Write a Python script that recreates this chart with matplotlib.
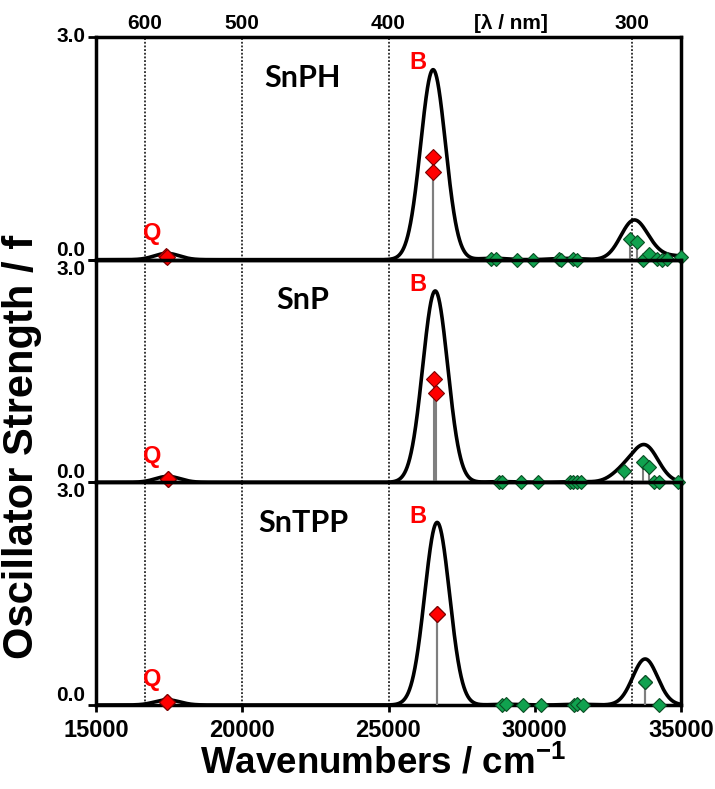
import numpy as np
import matplotlib
matplotlib.use("Agg")
import matplotlib.pyplot as plt
from matplotlib.transforms import blended_transform_factory

plt.rcParams["mathtext.fontset"] = "custom"
plt.rcParams["mathtext.rm"] = "Liberation Sans:bold"
plt.rcParams["mathtext.bf"] = "Liberation Sans:bold"
plt.rcParams["mathtext.it"] = "Liberation Sans:bold"
plt.rcParams["mathtext.default"] = "bf"

# ---------------- data ----------------
panel_names = ["SnPH", "SnP", "SnTPP"]

# Q band sticks (cm-1, oscillator strength)
q_x = [[17410, 17440], [17450, 17460], [17430, 17440]]
q_f = [[0.045, 0.04], [0.04, 0.04], [0.035, 0.035]]

# B band sticks
b_x = [[26520, 26530], [26560, 26640], [26660, 26665]]
b_f = [[1.38, 1.18], [1.39, 1.20], [1.23, 1.23]]

# higher-energy sticks (green)
g_x = [
    [28504, 28675, 29393, 29940, 30829, 30897, 31308, 31444,
     33257, 33496, 33701, 33906, 34179, 34350, 34521, 34990],
    [28778, 28880, 29530, 30111, 31205, 31308, 31444, 31581,
     33051, 33701, 33906, 34077, 34248, 34897],
    [28880, 29017, 29598, 30214, 31342, 31444, 31650,
     33769, 33780, 34248],
]
g_f = [
    [0.01, 0.01, 0.0, 0.0, 0.01, 0.0, 0.01, 0.0,
     0.28, 0.24, 0.0, 0.07, 0.01, 0.0, 0.01, 0.04],
    [0.0, 0.01, 0.0, 0.0, 0.0, 0.0, 0.01, 0.0,
     0.15, 0.28, 0.20, 0.0, 0.01, 0.0],
    [0.0, 0.01, 0.0, 0.0, 0.0, 0.01, 0.0,
     0.31, 0.31, 0.0],
]

nm_ticks = [600, 500, 400, 300]
vlines_nm = [600, 500, 400, 300]
x_ticks = [15000, 20000, 25000, 30000, 35000]
y_ticks = [0.0, 3.0]
sigma = 425.0

# ---------------- figure ----------------
W, H = 715, 789
fig = plt.figure(figsize=(W / 100, H / 100), dpi=100)
fig.patch.set_facecolor("white")

FONT = ["Liberation Sans", "DejaVu Sans"]
left_px, right_px = 96, 681
top_px, bot_px = 37, 705
ph = (bot_px - top_px) / 3.0

xx = np.linspace(15000, 35000, 4000)
red = "#FF0000"
green = "#10A24F"

axes = []
for i in range(3):
    y0 = top_px + i * ph
    ax = fig.add_axes([left_px / W, 1 - (y0 + ph) / H,
                       (right_px - left_px) / W, ph / H])
    ax.patch.set_visible(False)
    axes.append(ax)

    allx = np.array(q_x[i] + b_x[i] + g_x[i], dtype=float)
    allf = np.array(q_f[i] + b_f[i] + g_f[i], dtype=float)
    curve = (allf[:, None] * np.exp(-(xx[None, :] - allx[:, None]) ** 2
                                     / (2 * sigma ** 2))).sum(axis=0)

    for nm in vlines_nm:
        ax.axvline(1e7 / nm, color="black", ls=(0, (1.2, 1.2)), lw=1.1, zorder=1)

    ax.plot(xx, curve, color="black", lw=2.6, zorder=3)

    sx = q_x[i] + b_x[i] + g_x[i]
    sf = q_f[i] + b_f[i] + g_f[i]
    ax.vlines(sx, 0, sf, colors="#7f7f7f", lw=1.5, zorder=4)

    ax.plot(q_x[i] + b_x[i], q_f[i] + b_f[i], "D", ms=8.6, mfc=red,
            mec="#7a0000", mew=0.8, zorder=6, clip_on=False, ls="none")
    ax.plot(g_x[i], g_f[i], "D", ms=6.8, mfc=green, mec="#0b4d24",
            mew=0.8, zorder=5, clip_on=False, ls="none")

    ax.set_xlim(15000, 35000)
    ax.set_ylim(0, 3.0)

    for s in ax.spines.values():
        s.set_linewidth(2.5)
        s.set_zorder(2)

    ax.set_yticks(y_ticks)
    ax.set_yticklabels(["0.0", "3.0"])
    ax.tick_params(axis="y", direction="out", length=6, width=2, pad=1.5,
                   labelsize=15)
    for lab in ax.get_yticklabels():
        lab.set_fontweight("bold")
        lab.set_family(FONT)
    labs = ax.get_yticklabels()
    labs[0].set_va("bottom")
    labs[1].set_va("center" if i == 0 else "top")

    # panel text
    ax.text(22077, 2.45, panel_names[i], fontsize=22, fontweight="bold",
            family=["Lato", "DejaVu Sans"], ha="center", va="center", zorder=7)
    ax.text(26009, [2.65, 2.66, 2.54][i], "B", color=red, fontsize=17,
            fontweight="bold", family=FONT, ha="center", va="center", zorder=7)
    ax.text(16915, 0.35, "Q", color=red, fontsize=17, fontweight="bold",
            family=FONT, ha="center", va="center", zorder=7)

    if i == 0:
        ax.xaxis.set_ticks_position("top")
        ax.set_xticks([1e7 / n for n in nm_ticks])
        ax.set_xticklabels([str(n) for n in nm_ticks])
        ax.tick_params(axis="x", length=0, pad=3, labelsize=15)
        for lab in ax.get_xticklabels():
            lab.set_fontweight("bold")
            lab.set_family(FONT)
        tr = blended_transform_factory(ax.transData, ax.transAxes)
        ax.text(29200, 1.0 + 4 / ph, "[λ / nm]", transform=tr, fontsize=15,
                fontweight="bold", family=FONT, ha="center", va="bottom")
    elif i == 1:
        ax.tick_params(axis="x", bottom=False, labelbottom=False)
    else:
        ax.set_xticks(x_ticks)
        ax.set_xticklabels([str(t) for t in x_ticks])
        ax.tick_params(axis="x", direction="out", length=5, width=2, pad=5,
                       labelsize=17)
        for lab in ax.get_xticklabels():
            lab.set_fontweight("bold")
            lab.set_family(FONT)

fig.text(383 / W, 1 - 763 / H, r"Wavenumbers / cm$^{\mathbf{-1}}$", fontsize=26.5,
         fontweight="bold", family=FONT, ha="center", va="center")
fig.text(22 / W, 1 - 447 / H, "Oscillator Strength / f", fontsize=30,
         fontweight="bold", family=FONT, ha="center", va="center",
         rotation=90)

fig.savefig("out.png", dpi=100, facecolor="white")
